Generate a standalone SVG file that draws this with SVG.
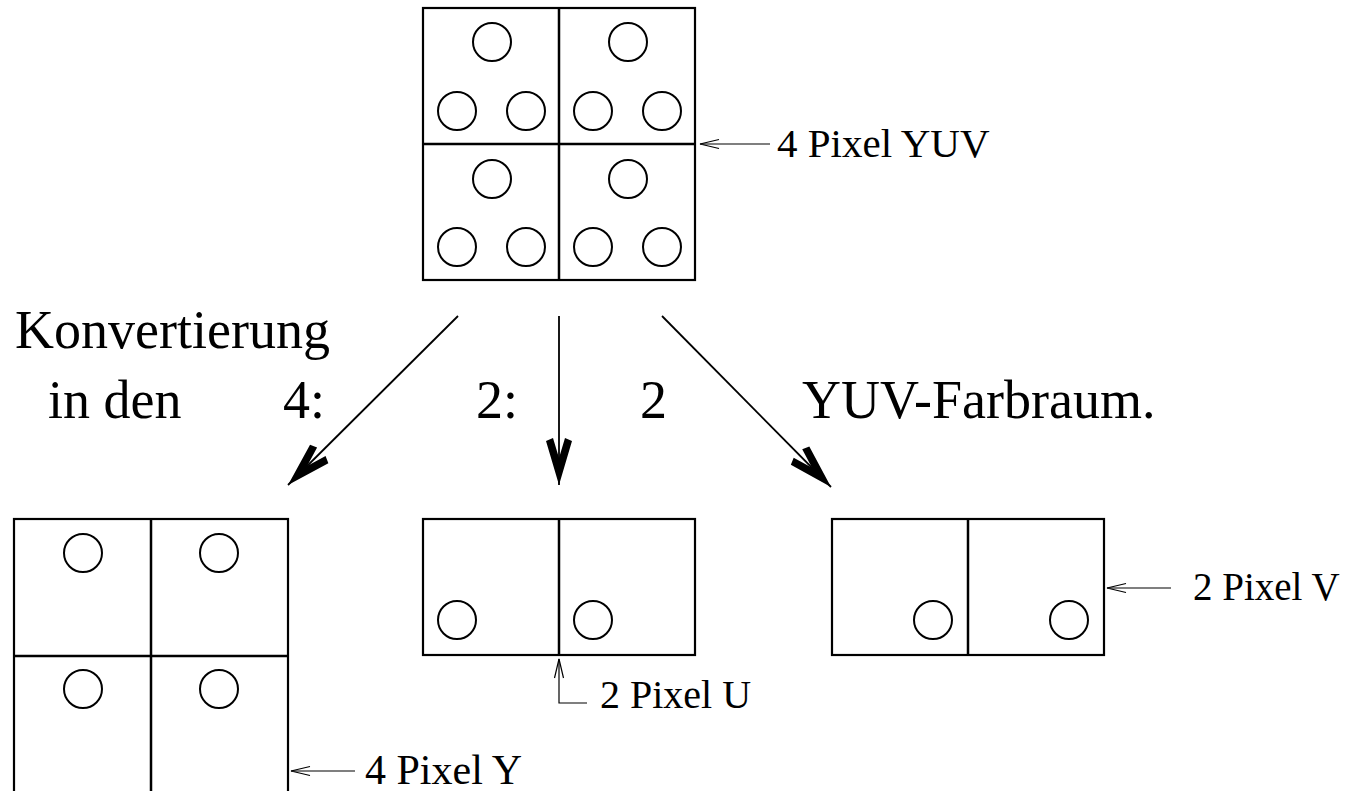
<svg xmlns="http://www.w3.org/2000/svg" width="1350" height="791" viewBox="0 0 1350 791">
<defs>
<style>
.box{fill:none;stroke:#000;stroke-width:2.2}
.div{fill:none;stroke:#000;stroke-width:2.5}
.dot{fill:none;stroke:#000;stroke-width:2}
.big{fill:none;stroke:#000;stroke-width:1.8}
.thin{fill:none;stroke:#000;stroke-width:1.2}
.t1{font-family:"Liberation Serif","Times New Roman",serif;font-size:54px;fill:#000}
.t2{font-family:"Liberation Serif","Times New Roman",serif;font-size:40px;fill:#000}
</style>
<marker id="head" markerUnits="userSpaceOnUse" orient="auto" refX="0" refY="0" markerWidth="60" markerHeight="40" viewBox="-50 -20 60 40" overflow="visible">
<path d="M0,0 L-44,-13 L-47,-6 L-27,0 L-47,6 L-44,13 Z" fill="#000"/>
</marker>
<marker id="open" markerUnits="userSpaceOnUse" orient="auto" refX="0" refY="0" markerWidth="30" markerHeight="20" viewBox="-25 -10 30 20" overflow="visible">
<path d="M-19,-4.5 L0,0 L-19,4.5" fill="none" stroke="#000" stroke-width="1.2"/>
</marker>
</defs>
<rect width="1350" height="791" fill="#fff"/>

<g id="yuv-block">
<rect class="box" x="423" y="8" width="272" height="272"/>
<line class="div" x1="559" y1="8" x2="559" y2="280"/>
<line class="div" x1="423" y1="144" x2="695" y2="144"/>
<circle class="dot" cx="492" cy="42" r="19"/>
<circle class="dot" cx="457" cy="111" r="19"/>
<circle class="dot" cx="526" cy="111" r="19"/>
<circle class="dot" cx="628" cy="42" r="19"/>
<circle class="dot" cx="593" cy="111" r="19"/>
<circle class="dot" cx="662" cy="111" r="19"/>
<circle class="dot" cx="492" cy="179" r="19"/>
<circle class="dot" cx="457" cy="247" r="19"/>
<circle class="dot" cx="526" cy="247" r="19"/>
<circle class="dot" cx="628" cy="179" r="19"/>
<circle class="dot" cx="593" cy="247" r="19"/>
<circle class="dot" cx="662" cy="247" r="19"/>
</g>

<g id="y-block">
<rect class="box" x="14" y="519" width="274" height="274"/>
<line class="div" x1="151" y1="519" x2="151" y2="793"/>
<line class="div" x1="14" y1="656" x2="288" y2="656"/>
<circle class="dot" cx="83" cy="553" r="19"/>
<circle class="dot" cx="219" cy="553" r="19"/>
<circle class="dot" cx="83" cy="689" r="19"/>
<circle class="dot" cx="219" cy="689" r="19"/>
</g>

<g id="u-block">
<rect class="box" x="423" y="519" width="272" height="136"/>
<line class="div" x1="559" y1="519" x2="559" y2="655"/>
<circle class="dot" cx="457" cy="620" r="19"/>
<circle class="dot" cx="593" cy="620" r="19"/>
</g>

<g id="v-block">
<rect class="box" x="832" y="519" width="272" height="136"/>
<line class="div" x1="968" y1="519" x2="968" y2="655"/>
<circle class="dot" cx="933" cy="620" r="19"/>
<circle class="dot" cx="1069" cy="620" r="19"/>
</g>

<g id="connectors">
<line class="big" x1="458" y1="316" x2="288" y2="485" marker-end="url(#head)"/>
<line class="big" x1="559" y1="316" x2="559" y2="485" marker-end="url(#head)"/>
<line class="big" x1="662" y1="316" x2="831" y2="487" marker-end="url(#head)"/>
<line class="thin" x1="770" y1="144" x2="700" y2="144" marker-end="url(#open)"/>
<line class="thin" x1="1171" y1="588" x2="1107" y2="588" marker-end="url(#open)"/>
<line class="thin" x1="355" y1="771" x2="291" y2="771" marker-end="url(#open)"/>
<polyline class="thin" points="587,703 559,703 559,659" marker-end="url(#open)"/>
</g>

<g id="labels">
<text class="t1" x="15" y="348">Konvertierung</text>
<text class="t1" x="48" y="418">in den</text>
<text class="t1" x="283" y="418">4:</text>
<text class="t1" x="476" y="418">2:</text>
<text class="t1" x="640" y="418">2</text>
<text class="t1" x="802" y="418">YUV-Farbraum.</text>
<text class="t2" x="777" y="157" style="font-size:41px">4 Pixel YUV</text>
<text class="t2" x="1193" y="600" style="font-size:39px">2 Pixel V</text>
<text class="t2" x="600" y="708">2 Pixel U</text>
<text class="t2" x="365" y="784" style="font-size:42px">4 Pixel Y</text>
</g>
</svg>
